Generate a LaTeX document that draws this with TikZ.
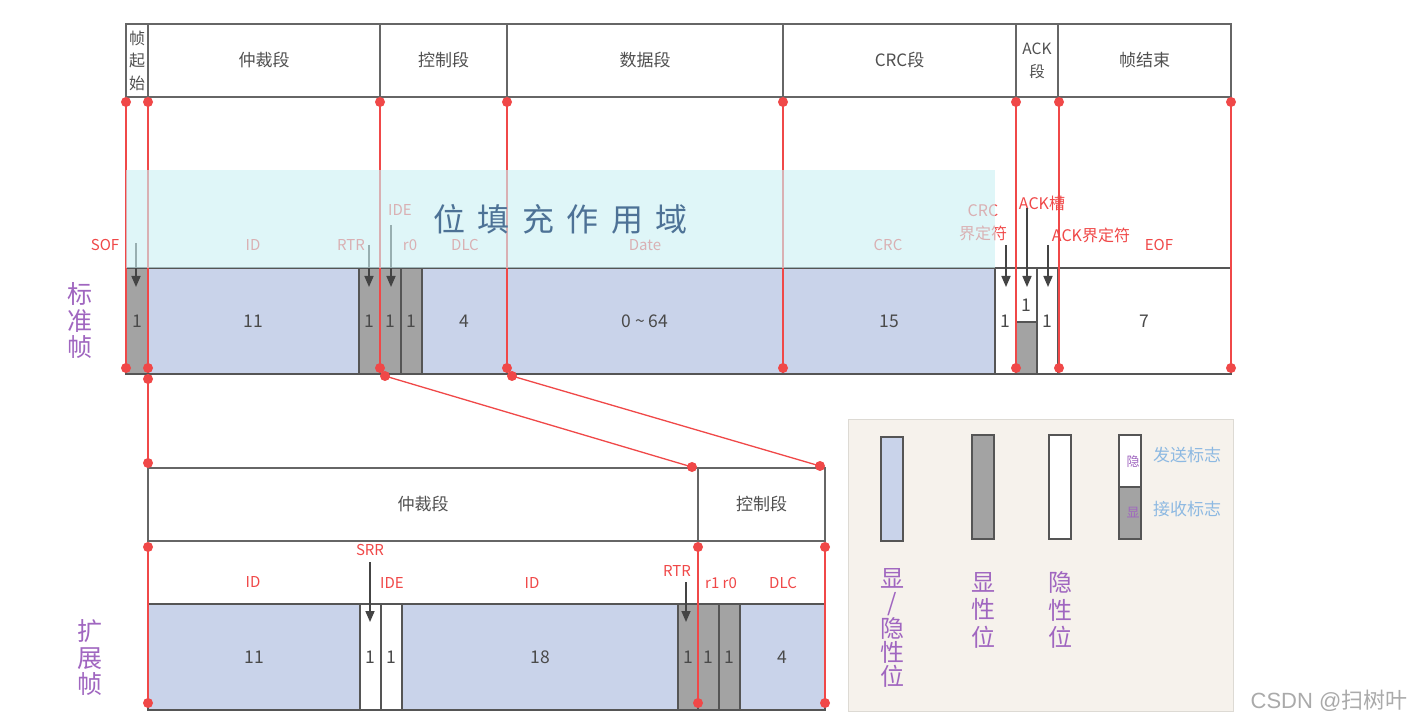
\documentclass[tikz,border=0pt]{standalone}
\usepackage{fontspec}
\setmainfont{Noto Sans CJK SC}
\newfontfamily\wmfont{Liberation Sans}
\usetikzlibrary{arrows.meta}
\definecolor{redc}{HTML}{F04848}
\definecolor{bordc}{HTML}{555555}
\definecolor{hdrc}{HTML}{666666}
\definecolor{hdrtext}{HTML}{505050}
\definecolor{numc}{HTML}{4A4A4A}
\definecolor{bluef}{HTML}{C9D3EA}
\definecolor{grayf}{HTML}{A3A3A3}
\definecolor{arrc}{HTML}{444444}
\definecolor{purp}{HTML}{A066C0}
\definecolor{legblue}{HTML}{8DB9E2}
\definecolor{bigtxt}{HTML}{4D7296}
\definecolor{legbg}{HTML}{F6F2EC}
\definecolor{cyanov}{HTML}{CCF1F5}
\definecolor{wmark}{HTML}{AAAAAA}
\newcommand\myfs[1]{\fontsize{#1}{#1}\selectfont}
\begin{document}
\begin{tikzpicture}[x=1pt,y=-1pt,
  cellst/.style={draw=bordc, line width=1.8pt, inner sep=0pt, outer sep=0pt, anchor=north west, text=numc, font=\myfs{17.5}},
  hdr/.style={draw=hdrc, line width=1.4pt, inner sep=0pt, outer sep=0pt, anchor=north west, text=hdrtext, font=\myfs{17}, align=center},
  legbar/.style={draw=bordc, line width=1.8pt, inner sep=0pt, outer sep=0pt, anchor=north west, minimum width=22pt},
  dot/.style={circle, fill=redc, inner sep=0pt, minimum size=10pt},
  redline/.style={draw=redc, line width=1.3pt},
  lab/.style={text=redc, font=\myfs{15}, inner sep=0pt, align=center},
  blab/.style={text=redc, font=\myfs{16}, inner sep=0pt, align=center},
  arw/.style={draw=arrc, line width=1.6pt, -{Triangle[width=9pt,length=11pt]}},
  vtxt/.style={text=purp, inner sep=0pt, align=center},
]
\useasboundingbox (0,0) rectangle (1425,727);
\fill[white] (0,0) rectangle (1425,727);

% ---------- legend ----------
\node[fill=legbg, draw=legbg!90!black, line width=0.4pt, inner sep=0pt, anchor=north west, minimum width=385pt, minimum height=292pt] (legend) at (848,419) {};
\node[legbar, fill=bluef, minimum height=104pt] (lb1) at (881,437) {};
\node[legbar, fill=grayf, minimum height=104pt] (lb2) at (972,435) {};
\node[legbar, fill=white, minimum height=104pt] (lb3) at (1049,435) {};
\node[legbar, fill=white, minimum height=52pt] (lb4a) at (1119,435) {};
\node[legbar, fill=grayf, minimum height=52pt] (lb4b) at (1119,487) {};
\node[text=purp, font=\myfs{13}, inner sep=0pt] (lh1) at (1133,462) {隐};
\node[text=purp, font=\myfs{13}, inner sep=0pt] (lh2) at (1133,513) {显};
\node[text=legblue, font=\myfs{17}, inner sep=0pt] (ls1) at (1187,455) {发送标志};
\node[text=legblue, font=\myfs{17}, inner sep=0pt] (ls2) at (1187,509) {接收标志};
\node[vtxt, font=\fontsize{24}{24}\selectfont] (lv1) at (892,628) {显\\/\\隐\\性\\位};
\node[vtxt, font=\fontsize{24}{27.5}\selectfont] (lv2) at (983,610) {显\\性\\位};
\node[vtxt, font=\fontsize{24}{27.5}\selectfont] (lv3) at (1060,610) {隐\\性\\位};

% ---------- top header ----------
\node[hdr, font=\fontsize{16}{22.5}\selectfont, minimum width=22pt, minimum height=73pt] (h1) at (126,24) {帧\\起\\始};
\node[hdr, minimum width=232pt, minimum height=73pt] (h2) at (148,24) {仲裁段};
\node[hdr, minimum width=127pt, minimum height=73pt] (h3) at (380,24) {控制段};
\node[hdr, minimum width=276pt, minimum height=73pt] (h4) at (507,24) {数据段};
\node[hdr, minimum width=233pt, minimum height=73pt] (h5) at (783,24) {CRC段};
\node[hdr, font=\fontsize{15.5}{23}\selectfont, minimum width=42pt, minimum height=73pt] (h6) at (1016,24) {ACK\\段};
\node[hdr, minimum width=173pt, minimum height=73pt] (h7) at (1058,24) {帧结束};

% ---------- standard frame ----------
\node[cellst, fill=grayf, minimum width=22pt, minimum height=106pt] (s1) at (126,268) {1};
\node[cellst, fill=bluef, minimum width=211pt, minimum height=106pt] (s2) at (148,268) {11};
\node[cellst, fill=grayf, minimum width=21pt, minimum height=106pt] (s3) at (359,268) {1};
\node[cellst, fill=grayf, minimum width=21pt, minimum height=106pt] (s4) at (380,268) {1};
\node[cellst, fill=grayf, minimum width=21pt, minimum height=106pt] (s5) at (401,268) {1};
\node[cellst, fill=bluef, minimum width=85pt, minimum height=106pt] (s6) at (422,268) {4};
\node[cellst, fill=bluef, minimum width=276pt, minimum height=106pt] (s7) at (507,268) {0 \textasciitilde\ 64};
\node[cellst, fill=bluef, minimum width=212pt, minimum height=106pt] (s8) at (783,268) {15};
\node[cellst, fill=white, minimum width=21pt, minimum height=106pt] (s9) at (995,268) {1};
\node[cellst, fill=white, minimum width=21pt, minimum height=54pt] (s10a) at (1016,268) {};
\node[cellst, fill=grayf, minimum width=21pt, minimum height=52pt] (s10b) at (1016,322) {};
\node[text=numc, font=\myfs{17.5}, inner sep=0pt] (n10) at (1026.5,305) {1};
\node[cellst, fill=white, minimum width=21pt, minimum height=106pt] (s11) at (1037,268) {1};
\node[cellst, fill=white, minimum width=173pt, minimum height=106pt] (s12) at (1058,268) {7};

% ---------- extended header ----------
\node[hdr, minimum width=550pt, minimum height=73pt] (e1) at (148,468) {仲裁段};
\node[hdr, minimum width=127pt, minimum height=73pt] (e2) at (698,468) {控制段};

% ---------- extended frame ----------
\node[cellst, fill=bluef, minimum width=212pt, minimum height=106pt] (x1) at (148,604) {11};
\node[cellst, fill=white, minimum width=21pt, minimum height=106pt] (x2) at (360,604) {1};
\node[cellst, fill=white, minimum width=21pt, minimum height=106pt] (x3) at (381,604) {1};
\node[cellst, fill=bluef, minimum width=276pt, minimum height=106pt] (x4) at (402,604) {18};
\node[cellst, fill=grayf, minimum width=20pt, minimum height=106pt] (x5) at (678,604) {1};
\node[cellst, fill=grayf, minimum width=21pt, minimum height=106pt] (x6) at (698,604) {1};
\node[cellst, fill=grayf, minimum width=21pt, minimum height=106pt] (x7) at (719,604) {1};
\node[cellst, fill=bluef, minimum width=85pt, minimum height=106pt] (x8) at (740,604) {4};

% ---------- side labels ----------
\node[vtxt, font=\fontsize{25}{26.5}\selectfont] (std) at (80,321) {标\\准\\帧};
\node[vtxt, font=\fontsize{25}{26.5}\selectfont] (ext) at (90,658) {扩\\展\\帧};

% ---------- red guide points ----------
\foreach \i/\x in {1/126,2/148,3/380,4/507,5/783,6/1016,7/1059,8/1231}{
  \coordinate (t\i) at (\x,102);
  \coordinate (b\i) at (\x,368);
}
\coordinate (c2) at (148,379);
\coordinate (c3) at (385,376);
\coordinate (c4) at (512,376);
\coordinate (d1) at (148,463);
\coordinate (d2) at (692,467);
\coordinate (d3) at (820,466);
\coordinate (f1) at (148,547);
\coordinate (f2) at (698,547);
\coordinate (f3) at (825,547);
\coordinate (g1) at (148,703);
\coordinate (g2) at (698,703);
\coordinate (g3) at (825,703);

\foreach \i in {1,...,8}{ \draw[redline] (t\i) -- (b\i); }
\draw[redline] (c2) -- (d1);
\draw[redline] (c3) -- (d2);
\draw[redline] (c4) -- (d3);
\draw[redline] (f1) -- (g1);
\draw[redline] (f2) -- (g2);
\draw[redline] (f3) -- (g3);

% ---------- red labels (standard) ----------
\node[lab] (lSOF) at (105,245) {SOF};
\node[lab] (lID) at (253,245) {ID};
\node[lab] (lRTR) at (351,245) {RTR};
\node[lab] (lIDE) at (400,210) {IDE};
\node[lab] (lr0) at (410,245) {r0};
\node[lab] (lDLC) at (465,245) {DLC};
\node[lab] (lDate) at (645,245) {Date};
\node[lab] (lCRC) at (888,245) {CRC};
\node[blab, font=\fontsize{16}{23}\selectfont] (lCRCd) at (983,223) {CRC\\界定符};
\node[blab] (lACKs) at (1042,203) {ACK槽};
\node[blab] (lACKd) at (1091,235) {ACK界定符};
\node[lab] (lEOF) at (1159,245) {EOF};

% ---------- arrows (standard) ----------
\coordinate (a1s) at (136,243); \coordinate (a1e) at (136,287);
\coordinate (a2s) at (369,245); \coordinate (a2e) at (369,287);
\coordinate (a3s) at (391,225); \coordinate (a3e) at (391,287);
\coordinate (a4s) at (1006,245); \coordinate (a4e) at (1006,287);
\coordinate (a5s) at (1027,208); \coordinate (a5e) at (1027,287);
\coordinate (a6s) at (1048,245); \coordinate (a6e) at (1048,287);
\draw[arw] (a1s) -- (a1e);
\draw[arw] (a2s) -- (a2e);
\draw[arw] (a3s) -- (a3e);
\draw[arw] (a4s) -- (a4e);
\draw[arw] (a5s) -- (a5e);
\draw[arw] (a6s) -- (a6e);

% ---------- bit stuffing zone ----------
\node[fill=cyanov, fill opacity=0.62, text opacity=1, inner sep=0pt, outer sep=0pt, anchor=north west,
      minimum width=869pt, minimum height=98pt, text=bigtxt, font=\myfs{32}] (zone) at (126,170)
      {位\hspace{12.5pt}填\hspace{12.5pt}充\hspace{12.5pt}作\hspace{12.5pt}用\hspace{12.5pt}域};

% ---------- red labels (extended) ----------
\node[lab] (xSRR) at (370,550) {SRR};
\node[lab] (xID1) at (253,582) {ID};
\node[lab] (xIDE) at (392,583) {IDE};
\node[lab] (xID2) at (532,583) {ID};
\node[lab] (xRTR) at (677,571) {RTR};
\node[lab] (xr) at (721,583) {r1 r0};
\node[lab] (xDLC) at (783,583) {DLC};
\coordinate (b1s) at (370,562); \coordinate (b1e) at (370,622);
\coordinate (b2s) at (686,582); \coordinate (b2e) at (686,622);
\draw[arw] (b1s) -- (b1e);
\draw[arw] (b2s) -- (b2e);

% ---------- red dots ----------
\foreach \p in {t1,t2,t3,t4,t5,t6,t7,t8,b1,b2,b3,b4,b5,b6,b7,b8,c2,c3,c4,d1,d2,d3,f1,f2,f3,g1,g2,g3}{
  \fill[redc] (\p) circle (5pt);
}

% ---------- watermark ----------
\node[text=wmark, font=\myfs{22}, inner sep=0pt] (wm) at (1329,701) {{\wmfont CSDN @}扫树叶};
\end{tikzpicture}
\end{document}
